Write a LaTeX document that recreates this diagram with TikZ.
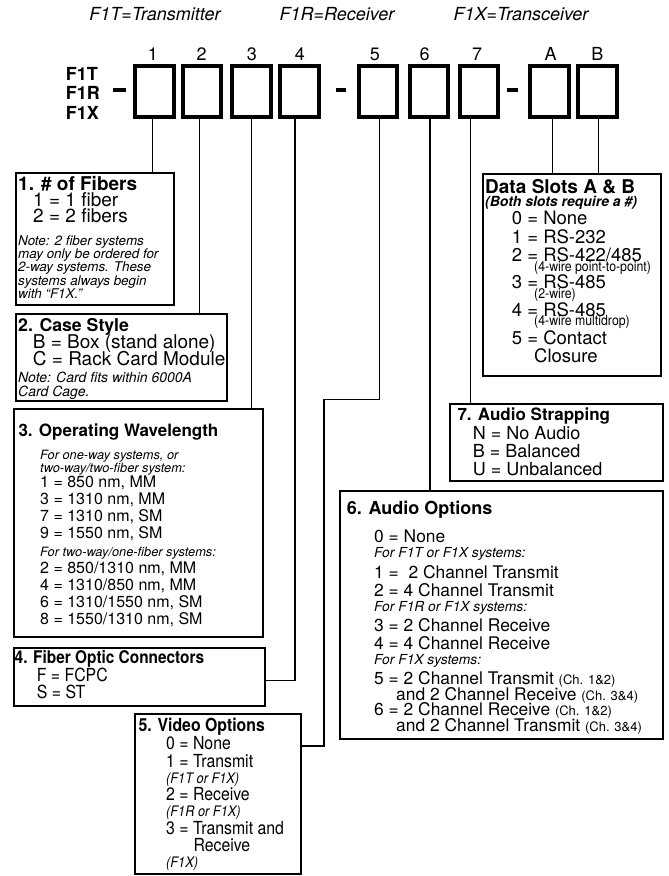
\documentclass[tikz,border=0pt]{standalone}
\usepackage{fontspec}
\setmainfont{TeX Gyre Heros}
\newfontfamily\narrowf[FakeStretch=0.88]{TeX Gyre Heros}
\newcommand\fs[1]{\fontsize{#1}{#1}\selectfont}
\newcommand\tl[5]{\node[txt,font=#4] (#1) at (#2,#3) {#5};}
\tikzset{
  topbox/.style={draw, line width=4pt, minimum width=38.4pt, minimum height=50.7pt, inner sep=0pt},
  lbox/.style={draw, line width=2pt, anchor=north west, inner sep=0pt},
  conn/.style={line width=1.3pt},
  dashbar/.style={line width=4pt},
  txt/.style={anchor=base west, inner sep=0pt},
  ctxt/.style={anchor=base, inner sep=0pt},
}
\begin{document}
\begin{tikzpicture}[x=1pt,y=-1pt]
\useasboundingbox (0,0) rectangle (669,876);
% header
\node[ctxt,font=\itshape\fs{18}] (h1) at (155,20) {F1T=Transmitter};
\node[ctxt,font=\itshape\fs{18}] (h2) at (337,20) {F1R=Receiver};
\node[ctxt,font=\itshape\fs{18}] (h3) at (521,20) {F1X=Transceiver};
% prefix
\tl{p1}{65.7}{80}{\bfseries\fs{18}}{F1T}
\tl{p2}{65.7}{99.5}{\bfseries\fs{18}}{F1R}
\tl{p3}{65.7}{119}{\bfseries\fs{18}}{F1X}
\draw[dashbar] (113,89.5) -- (126,89.5);
\draw[dashbar] (335.7,89.5) -- (345.7,89.5);
\draw[dashbar] (507.3,89.5) -- (518,89.5);
% top boxes
\foreach \n/\x/\lx/\lab in {1/154.5/153/1, 2/202.2/201.7/2, 3/251.3/252/3, 4/299.5/300/4, 5/378.2/375/5, 6/428.7/424.7/6, 7/479/477/7, A/549.3/550.7/A, B/597.5/597.3/B}{
  \node[topbox] (t\n) at (\x,91.7) {};
  \node[ctxt,font=\fs{18}] (n\n) at (\lx,60) {\lab};
}
% lower boxes
\node[lbox, minimum width=158pt, minimum height=132pt] (b1) at (15,171.7) {};
\node[lbox, minimum width=210.7pt, minimum height=86.7pt] (b2) at (15,313) {};
\node[lbox, minimum width=248.7pt, minimum height=228.3pt] (b3) at (13.3,407.7) {};
\node[lbox, minimum width=251pt, minimum height=58pt] (b4) at (12.7,646.7) {};
\node[lbox, minimum width=165.7pt, minimum height=159.7pt] (b5) at (134.3,713.3) {};
\node[lbox, minimum width=213pt, minimum height=77.3pt] (b7) at (449,402.7) {};
\node[lbox, minimum width=323pt, minimum height=248.5pt] (b6) at (339.3,489.5) {};
\node[lbox, minimum width=178.3pt, minimum height=202.6pt] (bd) at (481.7,172.7) {};
% connectors
\coordinate (k5a) at (324,399.5);
\coordinate (k5b) at (324,746);
\draw[conn] ([xshift=-2.2pt]t1.south) -- ([xshift=-2.2pt]t1.south |- b1.north);
\draw[conn] ([xshift=-2.9pt]t2.south) -- ([xshift=-2.9pt]t2.south |- b2.north);
\draw[conn] (t3.south) -- (t3.south |- b3.north);
\draw[conn] ([xshift=-4.5pt]t4.south) |- ([yshift=-4pt]b4.east);
\draw[conn] ([xshift=1.5pt]t5.south) |- (k5a) -- (k5b) -- (k5b -| b5.east);
\draw[conn] ([xshift=1.3pt]t6.south) -- ([xshift=1.3pt]t6.south |- b6.north);
\draw[conn] ([xshift=-8.3pt]t7.south) -- ([xshift=-8.3pt]t7.south |- b7.north);
\draw[conn] ([xshift=3pt]tA.south) -- ([xshift=3pt]tA.south |- bd.north);
\draw[conn] ([xshift=1pt]tB.south) -- ([xshift=1pt]tB.south |- bd.north);
% box 1
\tl{b1t}{18}{190}{\bfseries\fs{19}}{1. \# of Fibers}
\tl{b1a}{33}{206}{\fs{19}}{1 = 1 fiber}
\tl{b1b}{33}{222}{\fs{19}}{2 = 2 fibers}
\tl{b1c}{18}{245}{\itshape\fs{13.4}}{Note: 2 fiber systems}
\tl{b1d}{18}{258.3}{\itshape\fs{13.4}}{may only be ordered for}
\tl{b1e}{18}{271.6}{\itshape\fs{13.4}}{2-way systems. These}
\tl{b1f}{18}{285}{\itshape\fs{13.4}}{systems always begin}
\tl{b1g}{18}{298.3}{\itshape\fs{13.4}}{with “F1X.”}
% box 2
\tl{b2t}{18}{331.5}{\bfseries\fs{17.7}}{2. Case Style}
\tl{b2a}{32.7}{348.5}{\fs{19}}{B = Box (stand alone)}
\tl{b2b}{32.7}{365}{\fs{19}}{C = Rack Card Module}
\tl{b2c}{18}{382.5}{\itshape\fs{14}}{Note: Card fits within 6000A}
\tl{b2d}{18}{396}{\itshape\fs{14}}{Card Cage.}
% box 3
\tl{b3t}{18.3}{436}{\bfseries\fs{17}}{3. Operating Wavelength}
\tl{b3a}{40}{459.5}{\itshape\fs{12.8}}{For one-way systems, or}
\tl{b3b}{40}{472}{\itshape\fs{12.8}}{two-way/two-fiber system:}
\tl{b3c}{40}{487}{\fs{16}}{1 = 850 nm, MM}
\tl{b3d}{40}{504}{\fs{16}}{3 = 1310 nm, MM}
\tl{b3e}{40}{521}{\fs{16}}{7 = 1310 nm, SM}
\tl{b3f}{40}{538}{\fs{16}}{9 = 1550 nm, SM}
\tl{b3g}{40}{556}{\itshape\fs{12.8}}{For two-way/one-fiber systems:}
\tl{b3h}{40}{573.5}{\fs{16}}{2 = 850/1310 nm, MM}
\tl{b3i}{40}{590.5}{\fs{16}}{4 = 1310/850 nm, MM}
\tl{b3j}{40}{607.5}{\fs{16}}{6 = 1310/1550 nm, SM}
\tl{b3k}{40}{624.5}{\fs{16}}{8 = 1550/1310 nm, SM}
% box 4
\tl{b4t}{14.5}{663.3}{\narrowf\bfseries\fs{17.5}}{4. Fiber Optic Connectors}
\tl{b4a}{36.7}{681}{\narrowf\fs{18}}{F = FCPC}
\tl{b4b}{36.7}{698.3}{\narrowf\fs{18}}{S = ST}
% box 5
\tl{b5t}{138.3}{731}{\narrowf\bfseries\fs{18}}{5. Video Options}
\tl{b5a}{166}{749}{\narrowf\fs{18}}{0 = None}
\tl{b5b}{166}{767}{\narrowf\fs{18}}{1 = Transmit}
\tl{b5c}{166}{783}{\narrowf\itshape\fs{14.5}}{(F1T or F1X)}
\tl{b5d}{166}{800}{\narrowf\fs{18}}{2 = Receive}
\tl{b5e}{166}{816}{\narrowf\itshape\fs{14.5}}{(F1R or F1X)}
\tl{b5f}{166}{834}{\narrowf\fs{18}}{3 = Transmit and}
\tl{b5g}{193.3}{851.5}{\narrowf\fs{18}}{Receive}
\tl{b5h}{166}{867.5}{\narrowf\itshape\fs{14.5}}{(F1X)}
% data slots
\tl{bdt}{485}{193.5}{\bfseries\fs{19}}{Data Slots A \& B}
\tl{bda}{485}{206.5}{\bfseries\itshape\fs{14}}{(Both slots require a \#)}
\tl{bdb}{511.7}{224.5}{\fs{18.5}}{0 = None}
\tl{bdc}{511.7}{243}{\fs{18.5}}{1 = RS-232}
\tl{bdd}{511.7}{261}{\fs{18.5}}{2 = RS-422/485}
\tl{bde}{534}{271.5}{\narrowf\fs{14}}{(4-wire point-to-point)}
\tl{bdf}{511.7}{288.5}{\fs{18.5}}{3 = RS-485}
\tl{bdg}{534}{298}{\narrowf\fs{14}}{(2-wire)}
\tl{bdh}{511.7}{316}{\fs{18.5}}{4 = RS-485}
\tl{bdi}{534}{325.5}{\narrowf\fs{14}}{(4-wire multidrop)}
\tl{bdj}{511.7}{344}{\fs{18.5}}{5 = Contact}
\tl{bdk}{534}{362}{\fs{18.5}}{Closure}
% box 7
\tl{b7t}{457.3}{420.5}{\bfseries\fs{17}}{7. Audio Strapping}
\tl{b7a}{472.7}{439}{\fs{18}}{N = No Audio}
\tl{b7b}{472.7}{457}{\fs{18}}{B = Balanced}
\tl{b7c}{472.7}{475}{\fs{18}}{U = Unbalanced}
% box 6
\tl{b6t}{346.7}{514.5}{\bfseries\fs{18}}{6. Audio Options}
\tl{b6a}{374}{542.5}{\fs{17.4}}{0 = None}
\tl{b6b}{374}{557.5}{\itshape\fs{13.8}}{For F1T or F1X systems:}
\tl{b6c}{374}{578}{\fs{17.4}}{1 =\ \ 2 Channel Transmit}
\tl{b6d}{374}{596}{\fs{17.4}}{2 = 4 Channel Transmit}
\tl{b6e}{374}{611}{\itshape\fs{13.8}}{For F1R or F1X systems:}
\tl{b6f}{374}{631}{\fs{17.4}}{3 = 2 Channel Receive}
\tl{b6g}{374}{649}{\fs{17.4}}{4 = 4 Channel Receive}
\tl{b6h}{374}{664}{\itshape\fs{13.8}}{For F1X systems:}
\tl{b6i}{374}{684.5}{\fs{17.4}}{5 = 2 Channel Transmit {\fs{13}(Ch. 1\&2)}}
\tl{b6j}{396}{700}{\fs{17.4}}{and 2 Channel Receive {\fs{13}(Ch. 3\&4)}}
\tl{b6k}{374}{715.5}{\fs{17.4}}{6 = 2 Channel Receive {\fs{13}(Ch. 1\&2)}}
\tl{b6l}{396}{731}{\fs{17.4}}{and 2 Channel Transmit {\fs{13}(Ch. 3\&4)}}
\end{tikzpicture}
\end{document}
